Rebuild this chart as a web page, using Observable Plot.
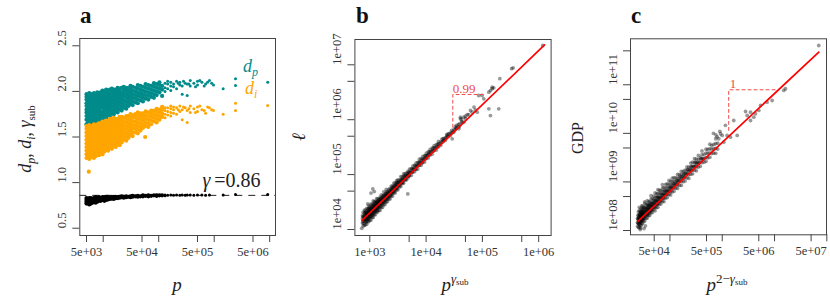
<!DOCTYPE html>
<html><head><meta charset="utf-8">
<script src="https://cdn.jsdelivr.net/npm/d3@7"></script>
<script src="https://cdn.jsdelivr.net/npm/@observablehq/plot@0.6"></script>
<style>
body{margin:0;background:#fff;}
#chart{position:relative;width:830px;height:304px;overflow:hidden;background:#fff;}
#chart svg{position:absolute;top:0;}
</style></head><body><div id="chart"></div>
<script>
// ---------- Panel a: [p, values read at that p ...] ----------
const dpCols = [
[5.0e3,1.64,1.69,1.73,1.77,1.80,1.84,1.87,1.91,1.94,1.97],[5.3e3,1.66,1.71,1.75,1.79,1.82,1.86,1.89,1.93,1.96],
[5.6e3,1.63,1.68,1.72,1.76,1.81,1.85,1.88,1.92,1.95,1.98],[6.0e3,1.67,1.70,1.74,1.78,1.83,1.87,1.90,1.94,1.97],
[6.4e3,1.65,1.69,1.73,1.77,1.80,1.84,1.89,1.93,1.96],[6.8e3,1.68,1.72,1.76,1.79,1.83,1.86,1.91,1.95,1.98],
[7.3e3,1.66,1.70,1.75,1.78,1.82,1.87,1.90,1.94,1.97],[7.8e3,1.69,1.73,1.77,1.81,1.85,1.88,1.92,1.96,1.99],
[8.4e3,1.67,1.71,1.76,1.80,1.84,1.89,1.93,1.97],[9.0e3,1.70,1.74,1.78,1.83,1.87,1.91,1.95,1.99],
[9.7e3,1.69,1.73,1.77,1.82,1.86,1.90,1.94,1.98,2.01],[1.05e4,1.72,1.76,1.80,1.84,1.88,1.92,1.96,2.00],
[1.13e4,1.71,1.75,1.79,1.83,1.87,1.91,1.95,1.99,2.02],[1.22e4,1.74,1.78,1.82,1.86,1.90,1.94,1.98,2.01],
[1.32e4,1.73,1.77,1.81,1.85,1.89,1.93,1.97,2.02],[1.43e4,1.76,1.80,1.84,1.88,1.92,1.96,2.00,2.03],
[1.55e4,1.75,1.79,1.83,1.87,1.91,1.95,1.99,2.02],[1.68e4,1.78,1.82,1.86,1.90,1.94,1.98,2.02],
[1.82e4,1.77,1.81,1.85,1.89,1.93,1.97,2.01,2.04],[1.98e4,1.80,1.84,1.88,1.92,1.96,2.00,2.03],
[2.15e4,1.79,1.83,1.87,1.91,1.95,1.99,2.04],[2.35e4,1.82,1.86,1.90,1.94,1.98,2.02,2.05],
[2.6e4,1.81,1.85,1.89,1.93,1.97,2.01,2.04],[2.85e4,1.84,1.88,1.92,1.96,2.00,2.04],
[3.1e4,1.86,1.90,1.94,1.98,2.02,2.06],[3.4e4,1.85,1.89,1.93,1.97,2.01,2.05],
[3.8e4,1.88,1.92,1.96,2.00,2.04],[4.2e4,1.87,1.91,1.95,1.99,2.03,2.07],
[4.7e4,1.90,1.94,1.98,2.02,2.06],[5.2e4,1.89,1.93,1.97,2.01,2.05],
[5.8e4,1.92,1.96,2.00,2.04,2.08],[6.5e4,1.91,1.95,1.99,2.03,2.07],
[7.3e4,1.94,1.98,2.02,2.06],[8.2e4,1.93,1.97,2.01,2.05,2.09],
[9.2e4,1.96,2.00,2.04,2.08],[1.03e5,1.99,2.03,2.07,2.10],
[1.15e5,1.95,2.02,2.06],[1.3e5,2.00,2.04,2.09],[1.45e5,2.03,2.08,2.11],[1.65e5,2.01,2.06,2.10],
[1.85e5,2.05,2.08],[2.1e5,2.03,2.11],[2.25e5,2.09],[2.4e5,2.07,2.10],[2.65e5,1.97,2.06],[2.8e5,2.11],
[3.0e5,2.09],[3.26e5,1.955,2.08],[3.5e5,2.08],[3.7e5,2.06,2.12],[4.3e5,2.09],[4.6e5,2.05],
[5.0e5,2.07,2.11],[5.5e5,2.12],[6.0e5,2.10],[6.6e5,2.06],[7.0e5,2.08],[7.6e5,2.10],[8.2e5,2.12],
[9.0e5,2.09],[9.7e5,2.07],[1.45e6,2.03],[2.42e6,2.064,2.14],[9.2e6,2.10]
];
const diCols = [
[5.0e3,1.27,1.31,1.35,1.39,1.43,1.47,1.51,1.55,1.59,1.62],[5.3e3,1.29,1.33,1.37,1.41,1.45,1.49,1.53,1.57,1.61],
[5.5e3,1.12],[5.6e3,1.26,1.30,1.34,1.38,1.42,1.46,1.50,1.54,1.58,1.63],[6.0e3,1.28,1.32,1.36,1.40,1.44,1.48,1.52,1.56,1.60],
[6.4e3,1.30,1.34,1.38,1.42,1.46,1.50,1.54,1.58,1.62],[6.8e3,1.27,1.31,1.35,1.39,1.43,1.47,1.51,1.55,1.59,1.64],
[7.3e3,1.29,1.33,1.37,1.41,1.45,1.49,1.53,1.57,1.61],[7.8e3,1.32,1.36,1.40,1.44,1.48,1.52,1.56,1.60,1.64],
[8.4e3,1.30,1.34,1.38,1.42,1.46,1.50,1.54,1.58,1.62,1.65],[9.0e3,1.33,1.37,1.41,1.45,1.49,1.53,1.57,1.61,1.65],
[9.7e3,1.31,1.35,1.39,1.43,1.47,1.51,1.55,1.59,1.63,1.67],[1.05e4,1.34,1.38,1.42,1.46,1.50,1.54,1.58,1.62,1.66],
[1.13e4,1.36,1.40,1.44,1.48,1.52,1.56,1.60,1.64,1.68],[1.22e4,1.35,1.39,1.43,1.47,1.51,1.55,1.59,1.63,1.67],
[1.32e4,1.38,1.42,1.46,1.50,1.54,1.58,1.62,1.66,1.70],[1.43e4,1.37,1.41,1.45,1.49,1.53,1.57,1.61,1.65,1.69],
[1.55e4,1.40,1.44,1.48,1.52,1.56,1.60,1.64,1.68,1.71],[1.68e4,1.39,1.43,1.47,1.51,1.55,1.59,1.63,1.67,1.70],
[1.82e4,1.42,1.46,1.50,1.54,1.58,1.62,1.66,1.70],[1.98e4,1.41,1.45,1.49,1.53,1.57,1.61,1.65,1.69,1.72],
[2.15e4,1.44,1.48,1.52,1.56,1.60,1.64,1.68,1.72],[2.35e4,1.47,1.51,1.55,1.59,1.63,1.67,1.71],
[2.6e4,1.46,1.50,1.54,1.58,1.62,1.66,1.70,1.73],[2.85e4,1.49,1.53,1.57,1.61,1.65,1.69,1.73],
[3.1e4,1.52,1.56,1.60,1.64,1.68,1.72,1.75],[3.4e4,1.51,1.55,1.59,1.63,1.67,1.71,1.74],
[3.8e4,1.55,1.59,1.63,1.67,1.71,1.75],[4.2e4,1.54,1.58,1.62,1.66,1.70,1.74,1.77],
[4.7e4,1.57,1.61,1.65,1.69,1.73,1.76],[5.2e4,1.60,1.64,1.68,1.72,1.76],[5.7e4,1.50],
[5.8e4,1.62,1.66,1.70,1.74,1.78],[6.5e4,1.61,1.65,1.69,1.73,1.77],[7.3e4,1.64,1.68,1.72,1.76,1.79],
[8.2e4,1.67,1.71,1.75,1.79],[9.2e4,1.66,1.70,1.74,1.78,1.81],[1.03e5,1.69,1.73,1.77,1.80],
[1.15e5,1.72,1.76,1.80,1.83],[1.3e5,1.71,1.75,1.79,1.82],[1.45e5,1.74,1.78,1.82],[1.65e5,1.73,1.77,1.81,1.84],
[1.85e5,1.76,1.80,1.83],[2.1e5,1.75,1.82],[2.25e5,1.80],[2.4e5,1.78,1.84],[2.65e5,1.69,1.80],[2.8e5,1.83],
[3.0e5,1.82],[3.26e5,1.66,1.79],[3.5e5,1.81],[3.7e5,1.77,1.84],[4.3e5,1.81],[4.6e5,1.77],[5.0e5,1.78,1.83],
[5.5e5,1.84],[6.0e5,1.80],[6.6e5,1.79],[7.0e5,1.76],[7.6e5,1.83],[8.2e5,1.82],[9.0e5,1.80],[9.7e5,1.79],
[1.45e6,1.75],[2.42e6,1.79,1.87],[9.2e6,1.845]
];
const gCols = [
[5.0e3,0.77,0.79,0.81,0.83],[5.3e3,0.78,0.80,0.82],[5.6e3,0.76,0.78,0.80,0.82,0.83],[6.0e3,0.77,0.79,0.81,0.83],
[6.4e3,0.78,0.80,0.82],[6.8e3,0.79,0.81,0.83],[7.3e3,0.78,0.80,0.82,0.84],[7.8e3,0.79,0.81,0.83],
[8.4e3,0.80,0.82,0.84],[9.0e3,0.80,0.82,0.83],[9.7e3,0.81,0.83,0.84],[1.05e4,0.80,0.82,0.84],
[1.13e4,0.81,0.83,0.845],[1.22e4,0.815,0.83,0.845],[1.32e4,0.82,0.835],[1.43e4,0.825,0.84],
[1.55e4,0.82,0.835,0.845],[1.68e4,0.83,0.845],[1.82e4,0.83,0.84],[1.98e4,0.835,0.845],[2.15e4,0.84,0.85],
[2.35e4,0.835,0.845],[2.6e4,0.84,0.85],[2.85e4,0.845],[3.1e4,0.84,0.85],[3.4e4,0.845,0.855],[3.8e4,0.85],
[4.2e4,0.845,0.855],[4.7e4,0.85],[5.2e4,0.85,0.86],[5.8e4,0.855],[6.5e4,0.85,0.86],[7.3e4,0.855],[8.2e4,0.86],
[9.2e4,0.855,0.86],[1.03e5,0.86],[1.15e5,0.86],[1.3e5,0.855,0.865],[1.45e5,0.86],[1.65e5,0.865],[1.85e5,0.86],
[2.1e5,0.865],[2.4e5,0.86],[2.65e5,0.865],[3.0e5,0.86],[3.26e5,0.865],[3.7e5,0.865],[4.3e5,0.86],[5.0e5,0.865],
[6.0e5,0.865],[7.0e5,0.86],[8.2e5,0.865],[1.45e6,0.865],[2.42e6,0.87],[9.2e6,0.87]
];
const gammaRef = [0.86];
const aXMajor = [5e3,5e4,5e5,5e6], aXMinor = [1e4,1e5,1e6,1e7];
const aYMajor = [0.5,1.0,1.5,2.0,2.5];

// ---------- Panel b: [p^gamma, l values ...] ----------
const bCols = [
[720,1.05e4],[760,1.16e4,1.39e4,1.71e4,2.06e4],[800,1.19e4,1.43e4,1.68e4,1.97e4,2.26e4],
[840,1.22e4,1.43e4,1.68e4,1.93e4,2.22e4],[880,1.25e4,1.43e4,1.64e4,1.89e4,2.12e4,2.43e4],
[920,1.4e4,1.61e4,1.85e4,2.07e4,2.38e4,2.92e4],[960,1.39e4,1.6e4,1.83e4,2.1e4,2.42e4,2.71e4],
[1000,1.48e4,1.7e4,1.95e4,2.24e4,2.58e4],[1050,1.49e4,1.71e4,1.96e4,2.25e4,2.58e4,2.9e4,4.6e4],
[1100,1.66e4,1.91e4,2.19e4,2.52e4,2.89e4],[1130,5.5e4],[1150,1.66e4,1.91e4,2.19e4,2.52e4,2.89e4,3.32e4],
[1200,1.86e4,2.13e4,2.45e4,2.81e4,3.23e4,4.9e4],[1260,1.86e4,2.14e4,2.45e4,2.82e4,3.24e4],
[1320,2.09e4,2.4e4,2.75e4,3.16e4,3.63e4],[1380,2.08e4,2.39e4,2.75e4,3.16e4,3.62e4],
[1450,2.24e4,2.63e4,3.09e4,3.55e4],[1520,2.24e4,2.58e4,2.96e4,3.4e4,3.9e4],
[1600,2.52e4,2.9e4,3.33e4,3.82e4,4.29e4],[1680,2.53e4,2.97e4,3.41e4,3.92e4],
[1770,2.79e4,3.21e4,3.68e4,4.23e4,4.85e4],[1860,2.86e4,3.29e4,3.78e4,4.34e4],
[1960,3.16e4,3.62e4,4.16e4,4.78e4,5.36e4],[2060,3.24e4,3.72e4,4.28e4,4.91e4],
[2170,3.56e4,4.09e4,4.7e4,5.4e4],[2290,3.6e4,4.13e4,4.85e4,5.57e4],[2410,4.06e4,4.66e4,5.35e4,6.14e4],
[2540,4.07e4,4.68e4,5.37e4,6.17e4],[2680,4.6e4,5.28e4,6.07e4,6.97e4],[2830,4.65e4,5.33e4,6.12e4,7.03e4],
[2990,5.25e4,6.03e4,6.92e4,7.76e4],[3160,5.3e4,6.22e4,7.14e4,8.02e4],[3350,6.01e4,6.9e4,7.93e4],
[3550,6.07e4,6.97e4,8.0e4,9.19e4],[3760,6.89e4,7.91e4,9.08e4],[3990,6.98e4,8.02e4,9.2e4,1.03e5],
[4230,7.91e4,9.08e4,1.04e5],[4500,8.04e4,9.22e4,1.06e5],[4730,4.44e4,9.27e4,1.06e5],[4790,8.75e4,1.0e5,1.15e5],
[5100,9.53e4,1.09e5,1.26e5],[5450,9.7e4,1.11e5,1.28e5],[5820,1.11e5,1.27e5,1.43e5],[6220,1.13e5,1.3e5,1.49e5],
[6650,1.24e5,1.42e5,1.63e5],[7120,1.26e5,1.45e5,1.66e5],[7620,1.48e5,1.7e5,1.91e5],[8150,1.48e5,1.69e5,1.95e5],
[8750,1.66e5,1.91e5,2.14e5],[9400,1.7e5,1.95e5,2.19e5],[1.01e4,1.95e5,2.19e5,2.46e5],[1.09e4,2.01e5,2.31e5,2.59e5],
[1.18e4,2.28e5,2.56e5,2.87e5],[1.28e4,2.36e5,2.71e5,3.04e5],[1.39e4,2.74e5,3.08e5,3.37e5],
[1.52e4,2.8e5,3.14e5,3.52e5],[1.66e4,3.19e5,3.58e5,4.02e5],[1.82e4,3.41e5,3.92e5],[2.0e4,4.02e5,4.51e5],
[2.06e4,4.18e5],[2.2e4,4.21e5,4.72e5],[2.37e4,5.15e5],[2.45e4,4.91e5,5.51e5],[2.7e4,5.15e5,5.78e5],
[2.91e4,4.49e5],[3.0e4,6.12e5],[3.1e4,5.9e5],[3.3e4,6.59e5,7.4e5],[3.56e4,7.3e5],[3.81e4,6.82e5],
[3.9e4,7.41e5,8.32e5],[4.08e4,1.04e6,1.11e6],[4.38e4,9.0e5],[4.68e4,9.0e5,1.11e6],[5.37e4,1.23e6],
[6.15e4,1.47e6],[6.59e4,1.37e6],[7.1e4,1.7e6],[8.09e4,1.37e6],[8.6e4,2.76e6],[9.9e4,2.76e6],[1.06e5,2.4e6],
[1.3e5,1.58e6,3.17e6],[1.39e5,1.19e6,3.4e6],[1.49e5,3.66e6,3.9e6],[1.59e5,3.8e6],[1.95e5,1.58e6],
[2.04e5,5.6e6],[3.3e5,8.5e6],[3.52e5,8.8e6],[1.18e6,2.25e7]
];
// dense core of panel b, read between the columns above
const bCore = [
[740,1.32e4,1.59e4,1.79e4],[780,1.3e4,1.53e4,1.76e4],[820,1.53e4,1.8e4,2.07e4],[860,1.37e4,1.57e4,1.8e4,2.02e4],
[900,1.57e4,1.85e4,2.02e4],[940,1.53e4,1.79e4,2.06e4,2.31e4],[980,1.75e4,2.05e4,2.3e4],[1020,1.7e4,1.91e4,2.19e4,2.45e4],
[1075,1.87e4,2.15e4,2.41e4],[1125,1.82e4,2.09e4,2.35e4,2.64e4],[1175,2.09e4,2.4e4,2.69e4],[1230,2.09e4,2.34e4,2.69e4,3.02e4],
[1290,2.35e4,2.7e4,3.03e4],[1350,2.23e4,2.56e4,2.88e4,3.23e4],[1415,2.51e4,2.88e4,3.24e4],[1485,2.52e4,2.89e4,3.24e4,3.56e4],
[1560,2.82e4,3.24e4,3.56e4],[1640,2.84e4,3.26e4,3.66e4],[1725,3.2e4,3.67e4,4.12e4],[1815,3.13e4,3.52e4,4.04e4],
[1910,3.53e4,4.06e4,4.45e4],[2010,3.55e4,4.07e4,4.57e4],[2115,3.99e4,4.58e4],[2230,3.93e4,4.61e4,5.06e4],
[2350,4.34e4,4.98e4],[2475,4.47e4,5.13e4,5.75e4],[2610,4.92e4,5.65e4],[2755,4.95e4,5.82e4,6.38e4],[2910,5.61e4,6.44e4],
[3075,5.65e4,6.49e4,7.28e4],[3250,6.4e4,7.18e4],[3450,6.47e4,7.43e4],[3650,7.16e4,8.22e4],[3870,7.26e4,8.34e4],
[4100,8.22e4,9.44e4],[4360,8.34e4,9.57e4],[4640,9.53e4],[4950,9.68e4,1.11e5],[5280,1.11e5],[5630,1.1e5,1.26e5],
[6000,1.25e5],[6430,1.25e5,1.44e5],[6880,1.44e5],[7360,1.47e5,1.64e5],[7880,1.64e5],[8450,1.64e5,1.84e5],
[9070,1.89e5],[9750,1.98e5,2.22e5],[1.05e4,2.23e5],[1.135e4,2.3e5,2.58e5],[1.23e4,2.61e5],[1.335e4,2.69e5,3.02e5],
[1.455e4,3.08e5],[1.59e4,3.2e5,3.59e5],[1.74e4,3.67e5],[1.91e4,3.93e5,4.41e5],[2.1e4,4.52e5],[2.32e4,4.75e5,5.33e5],
[2.57e4,5.51e5],[2.85e4,5.7e5,6.4e5],[3.15e4,6.73e5],[3.45e4,7.05e5,7.91e5],[3.75e4,8.18e5],[4.25e4,9.04e5,1.01e6],
[5.0e4,1.04e6,1.16e6],[5.7e4,1.24e6],[7.5e4,1.51e6]
];
const fitBX = [726, 1.27e6], fitBY = [1.46e4, 2.3e7];
const triBX = [2.98e4, 2.98e4, 1.135e5], triBY = [7.3e5, 2.88e6, 2.88e6];
const bXMajor = [1e3,1e4,1e5,1e6], bXMinor = [5e3,5e4,5e5];
const bYMajor = [1e4,1e5,1e6,1e7], bYMinor = [5e4,5e5,5e6];

// ---------- Panel c: [p^(2-gamma), GDP values ...] ----------
const cCols = [
[2.4e4,1.22e8,1.47e8,1.76e8],[2.5e4,1.16e8,1.39e8,1.67e8,2.01e8,2.42e8],
[2.6e4,1.15e8,1.35e8,1.55e8,1.82e8,2.14e8,2.58e8,3.0e8],[2.7e4,1.05e8,1.28e8,1.5e8,1.77e8,2.07e8,2.44e8],
[2.75e4,1.12e8],[2.8e4,1.27e8,1.49e8,1.71e8,2.01e8,2.36e8,2.84e8],[2.9e4,1.41e8,1.65e8,1.94e8,2.28e8,2.68e8,3.2e8],
[3.0e4,1.39e8,1.63e8,1.92e8,2.25e8,2.65e8,3.18e8],[3.15e4,1.57e8,1.84e8,2.16e8,2.54e8,2.99e8],[3.2e4,1.1e8],
[3.3e4,1.57e8,1.85e8,2.17e8,2.55e8,2.99e8,3.6e8,3.9e8],[3.4e4,1.25e8],[3.5e4,1.78e8,2.09e8,2.46e8,2.89e8,3.4e8],
[3.7e4,1.8e8,2.11e8,2.48e8,2.92e8,3.43e8,4.12e8],[3.9e4,2.03e8,2.39e8,2.81e8,3.3e8,3.87e8],
[4.1e4,2.04e8,2.4e8,2.82e8,3.31e8,3.89e8],[4.35e4,2.32e8,2.72e8,3.2e8,3.76e8,4.42e8,5.19e8],
[4.6e4,2.35e8,2.76e8,3.24e8,3.81e8,4.48e8],[4.9e4,2.68e8,3.15e8,3.7e8,4.35e8,5.11e8],
[5.2e4,2.54e8,2.98e8,3.5e8,4.11e8,4.83e8,5.94e8],[5.55e4,2.96e8,3.48e8,4.09e8,4.81e8,5.65e8],
[5.9e4,3.01e8,3.54e8,4.16e8,4.89e8,5.74e8,6.9e8],[6.3e4,3.52e8,4.14e8,4.86e8,5.71e8,6.71e8],
[6.7e4,3.5e8,4.11e8,4.83e8,5.68e8,6.67e8],[7.2e4,3.94e8,4.63e8,5.45e8,6.4e8,7.52e8,8.83e8],
[7.7e4,3.94e8,4.62e8,5.43e8,6.38e8,7.5e8],[8.3e4,4.66e8,5.47e8,6.43e8,7.55e8,8.87e8],
[8.9e4,4.76e8,5.6e8,6.58e8,7.73e8,9.08e8],[9.6e4,5.51e8,6.47e8,7.6e8,8.93e8,1.07e9],
[1.03e5,5.4e8,6.34e8,7.45e8,8.75e8,1.03e9],[1.11e5,6.24e8,7.33e8,8.61e8,1.01e9,1.19e9],
[1.2e5,6.44e8,7.57e8,8.89e8,1.04e9,1.23e9],[1.3e5,7.48e8,8.79e8,1.03e9,1.21e9],
[1.4e5,7.35e8,8.63e8,1.01e9,1.19e9,1.43e9],[1.52e5,8.55e8,1.03e9,1.21e9,1.42e9],
[1.65e5,8.47e8,1.02e9,1.2e9,1.41e9,1.65e9],[1.8e5,1.01e9,1.19e9,1.4e9,1.64e9],[1.95e5,1.05e9,1.26e9,1.48e9,1.74e9],
[2.12e5,1.22e9,1.47e9,1.73e9,2.03e9],[2.3e5,1.18e9,1.42e9,1.71e9,2.01e9],[2.5e5,1.44e9,1.69e9,2.04e9,2.45e9],
[2.72e5,1.47e9,1.77e9,2.12e9,2.55e9],[2.95e5,1.75e9,2.1e9,2.52e9,3.03e9],[3.2e5,1.69e9,2.03e9,2.44e9,2.93e9],
[3.5e5,2.02e9,2.43e9,2.92e9,3.52e9],[3.8e5,2.1e9,2.59e9,3.11e9],[4.1e5,2.49e9,2.99e9,3.6e9,4.33e9],
[4.5e5,2.55e9,3.06e9,3.68e9],[4.9e5,2.65e9,3.18e9,3.92e9,4.71e9],[5.3e5,3.14e9,3.86e9,4.65e9],
[5.8e5,3.21e9,3.95e9,4.86e9,5.98e9],[6.3e5,3.83e9,4.71e9,5.66e9],[6.8e5,1.0e10],[6.9e5,3.92e9,4.82e9,5.93e9],
[7.5e5,3.88e9,4.89e9,6.15e9,7.74e9],[7.6e5,9.3e9],[8.0e5,8.5e9],[8.2e5,4.76e9,6.28e9],[8.6e5,7.74e9],
[9.0e5,1.1e10],[9.27e5,9.82e9],[9.98e5,9.06e9],[1.07e6,6.59e9],[1.15e6,1.46e10],[1.24e6,9.06e9],
[1.44e6,8.36e9],[1.66e6,1.84e10],[1.93e6,9.06e9],[2.79e6,2.82e10],[3.0e6,2.33e10],[3.47e6,1.84e10,2.73e10],
[4.01e6,2.15e10],[4.32e6,2.53e10],[5.0e6,2.96e10],[5.4e6,3.75e10],[7.2e6,4.39e10],[9.0e6,4.75e10],
[1.5e7,7.64e10],[1.62e7,8.28e10],[7.0e7,6.44e11]
];
// dense core of panel c, read between the columns above
const cCore = [
[2.45e4,1.43e8,1.76e8,2.07e8],[2.55e4,1.36e8,1.63e8,1.87e8],[2.65e4,1.58e8,1.86e8,2.13e8],
[2.75e4,1.5e8,1.8e8,2.07e8,2.43e8],[2.85e4,1.74e8,2.05e8,2.35e8],[2.95e4,1.64e8,1.98e8,2.27e8],
[3.07e4,1.84e8,2.16e8,2.48e8,2.84e8],[3.22e4,1.8e8,2.11e8,2.43e8],[3.4e4,2.08e8,2.44e8,2.87e8],
[3.6e4,2.06e8,2.42e8,2.77e8],[3.8e4,2.38e8,2.8e8,3.29e8],[4.0e4,2.29e8,2.69e8,3.16e8],
[4.22e4,2.58e8,3.03e8,3.48e8],[4.48e4,2.62e8,3.08e8,3.53e8],[4.75e4,3.05e8,3.59e8],
[5.05e4,3.03e8,3.56e8,4.08e8],[5.38e4,3.46e8,4.06e8],[5.72e4,3.43e8,4.03e8,4.73e8],[6.1e4,4.01e8,4.71e8],
[6.5e4,3.99e8,4.69e8],[6.95e4,4.69e8,5.51e8],[7.45e4,4.69e8,5.51e8],[8.0e4,5.52e8,6.49e8],[8.6e4,5.53e8,6.5e8],
[9.25e4,6.53e8],[1.0e5,6.59e8,7.74e8],[1.07e5,7.74e8],[1.16e5,7.83e8,9.2e8],[1.25e5,9.06e8],
[1.35e5,9.12e8,1.07e9],[1.46e5,1.06e9],[1.58e5,1.09e9,1.29e9],[1.72e5,1.28e9],[1.87e5,1.27e9,1.49e9],
[2.03e5,1.47e9],[2.2e5,1.52e9,1.79e9],[2.4e5,1.79e9],[2.6e5,1.77e9,2.07e9],[2.85e5,2.07e9],
[3.1e5,2.15e9,2.53e9],[3.35e5,2.49e9],[3.65e5,2.48e9],[3.95e5,3.02e9],[4.3e5,2.99e9]
];
const fitCX = [2.43e4, 7.02e7], fitCY = [1.55e8, 4.69e11];
const triCX = [1.33e6, 1.33e6, 1.125e7], triCY = [1.15e10, 7.89e10, 7.89e10];
const cXMajor = [5e4,5e5,5e6,5e7], cXMinor = [1e5,1e6,1e7,1e8];
const cYMajor = [1e8,1e9,1e10,1e11], cYMinor = [5e8,5e9,5e10,5e11];

// ---------- helpers ----------
const SERIF = "Liberation Serif, DejaVu Serif, serif";
const TEAL = "#008B8B", ORANGE = "#FFA500", RED = "#ff0000", LRED = "#f04a4a";
const DENSE = 1.2e5; // below this p the bands of panel a are solid
const flat = cols => cols.flatMap(([x, ...ys]) => ys.map(y => ({x, y})));
const zipXY = (xs, ys) => xs.map((x, i) => ({x, y: ys[i]}));
const fmtE = d => { const [m, e] = d.toExponential().split("e"); return `${m}e${e[0] === "-" ? "-" : "+"}${String(Math.abs(+e)).padStart(2, "0")}`; };
const fmt1 = d => d.toFixed(1);

function panel({left, width, ml, mr, mt, mb, xDomain, yType, yDomain, xMajor, xMinor, yMajor, yMinor, xFmt, yFmt, marks}) {
  const tick = {tickSize: 7, tickFormat: () => "", stroke: "#444"};
  const svg = Plot.plot({
    width, height: 304, marginLeft: ml, marginRight: mr, marginTop: mt, marginBottom: mb,
    x: {type: "log", domain: xDomain, label: null},
    y: {type: yType, domain: yDomain, label: null},
    style: {fontFamily: SERIF, fontSize: "12.5px", color: "#333", background: "none", overflow: "visible"},
    marks: [
      ...marks,
      Plot.frame({stroke: "#444"}),
      Plot.axisX({ticks: xMajor.concat(xMinor), ...tick}),
      Plot.axisY({ticks: yMajor.concat(yMinor), ...tick}),
      Plot.text(xMajor, {x: d => d, text: xFmt, frameAnchor: "bottom", dy: 20, fill: "#333", fontSize: 12.5, fontFamily: SERIF}),
      Plot.text(yMajor, {y: d => d, text: yFmt, frameAnchor: "left", dx: -17.5, rotate: -90, fill: "#333", fontSize: 12.5, fontFamily: SERIF})
    ]
  });
  svg.style.left = left + "px";
  document.getElementById("chart").append(svg);
  return svg;
}
function rich(svg, x, y, parts, {rotate = 0, anchor = "start", size = 18, fill = "#222", weight = "normal"} = {}) {
  const t = d3.select(svg).append("text")
    .attr("transform", `translate(${x},${y})` + (rotate ? ` rotate(${rotate})` : ""))
    .attr("text-anchor", anchor).attr("font-family", SERIF).attr("font-size", size)
    .attr("font-weight", weight).attr("fill", fill);
  let cur = 0;
  for (const [s, o = {}] of parts) {
    const sp = t.append("tspan").text(s);
    const shift = o.shift || 0;
    if (shift !== cur) sp.attr("dy", cur - shift);
    cur = shift;
    if (o.it) sp.attr("font-style", "italic");
    if (o.size) sp.attr("font-size", o.size);
  }
  return t;
}
const bandDots = (cols, fill) => [
  Plot.dot(flat(cols), {x: "x", y: "y", r: 2.1, fill, filter: d => d.x < DENSE}),
  Plot.dot(flat(cols), {x: "x", y: "y", r: 1.5, fill, filter: d => d.x >= DENSE})
];

// ---------- panel a ----------
const svgA = panel({
  left: 0, width: 280, ml: 79.3, mr: 5, mt: 38, mb: 69,
  xDomain: [3786, 1.272e7], yType: "linear", yDomain: [0.42, 2.58],
  xMajor: aXMajor, xMinor: aXMinor, yMajor: aYMajor, yMinor: [], xFmt: fmtE, yFmt: fmt1,
  marks: [
    Plot.ruleY(gammaRef, {stroke: "#222", strokeDasharray: "7,6", strokeWidth: 1}),
    ...bandDots(dpCols, TEAL),
    ...bandDots(diCols, ORANGE),
    ...bandDots(gCols, "#000")
  ]
});
const axA = svgA.scale("x"), ayA = svgA.scale("y");
rich(svgA, axA.apply(3.37e6), ayA.apply(2.207), [["d", {it: 1}], ["p", {it: 1, shift: -4, size: 12}]], {size: 18, fill: TEAL});
rich(svgA, axA.apply(3.66e6), ayA.apply(1.966), [["d", {it: 1}], ["i", {it: 1, shift: -4, size: 12}]], {size: 18, fill: ORANGE});
rich(svgA, axA.apply(7.0e6), ayA.apply(0.95), [["γ", {it: 1}], ["\u2009=0.86"]], {size: 20, anchor: "end", fill: "#222"});
rich(svgA, 80, 23.3, [["a"]], {size: 23, weight: "bold", fill: "#111"});
rich(svgA, 177, 291, [["p", {it: 1}]], {size: 19, anchor: "middle"});
rich(svgA, 31, 139, [["d", {it: 1}], ["p", {it: 1, shift: -4, size: 12}], [", "], ["d", {it: 1}], ["i", {it: 1, shift: -4, size: 12}], [", "], ["γ", {it: 1}], ["sub", {shift: -4, size: 11}]], {size: 18, anchor: "middle", rotate: -90});

// ---------- panel b ----------
const svgB = panel({
  left: 280, width: 275, ml: 74.4, mr: 4.4, mt: 39, mb: 69,
  xDomain: [543.6, 1.661e6], yType: "log", yDomain: [7778, 2.89e7],
  xMajor: bXMajor, xMinor: bXMinor, yMajor: bYMajor, yMinor: bYMinor, xFmt: fmtE, yFmt: fmtE,
  marks: [
    Plot.dot(flat(bCols).concat(flat(bCore)), {x: "x", y: "y", r: 1.9, fill: "#000", fillOpacity: 0.4}),
    Plot.line(zipXY(fitBX, fitBY), {x: "x", y: "y", stroke: RED, strokeWidth: 1.7}),
    Plot.line(zipXY(triBX, triBY), {x: "x", y: "y", stroke: LRED, strokeWidth: 1, strokeDasharray: "3,3"}),
    Plot.text([{x: triBX[1], y: triBY[1], t: "0.99"}], {x: "x", y: "y", text: "t", textAnchor: "start", dy: -5.5, fill: LRED, fontSize: 13, fontFamily: SERIF})
  ]
});
rich(svgB, 76, 23.3, [["b"]], {size: 23, weight: "bold", fill: "#111"});
rich(svgB, 175, 291, [["p", {it: 1}], ["γ", {it: 1, shift: 8, size: 13}], ["sub", {shift: 6, size: 9}]], {size: 19, anchor: "middle"});
rich(svgB, 25, 137, [["ℓ", {it: 1}]], {size: 19, anchor: "middle", rotate: -90});

// ---------- panel c ----------
const svgC = panel({
  left: 555, width: 275, ml: 75, mr: 4, mt: 38.3, mb: 69.7,
  xDomain: [1.762e4, 9.85e7], yType: "log", yDomain: [8.16e7, 8.84e11],
  xMajor: cXMajor, xMinor: cXMinor, yMajor: cYMajor, yMinor: cYMinor, xFmt: fmtE, yFmt: fmtE,
  marks: [
    Plot.dot(flat(cCols).concat(flat(cCore)), {x: "x", y: "y", r: 1.9, fill: "#000", fillOpacity: 0.4}),
    Plot.line(zipXY(fitCX, fitCY), {x: "x", y: "y", stroke: RED, strokeWidth: 1.7}),
    Plot.line(zipXY(triCX, triCY), {x: "x", y: "y", stroke: LRED, strokeWidth: 1, strokeDasharray: "3,3"}),
    Plot.text([{x: triCX[1], y: triCY[1], t: "1"}], {x: "x", y: "y", text: "t", textAnchor: "start", dx: 1, dy: -5.5, fill: LRED, fontSize: 13, fontFamily: SERIF})
  ]
});
rich(svgC, 76, 23.3, [["c"]], {size: 23, weight: "bold", fill: "#111"});
rich(svgC, 172, 291, [["p", {it: 1}], ["2−", {shift: 8, size: 13}], ["γ", {it: 1, shift: 8, size: 13}], ["sub", {shift: 6, size: 9}]], {size: 19, anchor: "middle"});
rich(svgC, 27.7, 138, [["GDP"]], {size: 16, anchor: "middle", rotate: -90});
</script></body></html>
